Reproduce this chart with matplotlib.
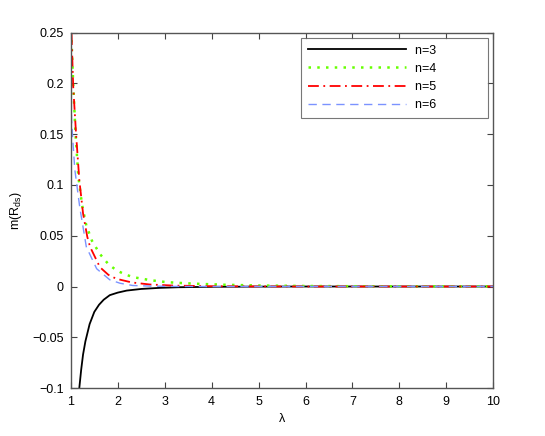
import matplotlib
matplotlib.use('Agg')
import matplotlib.pyplot as plt

plt.rcParams['font.family'] = ['Liberation Sans', 'DejaVu Sans']
plt.rcParams['mathtext.fontset'] = 'custom'
plt.rcParams['mathtext.rm'] = 'Liberation Sans'

# values
lam_n3 = [1.18, 1.22, 1.26, 1.31, 1.40, 1.50, 1.60, 1.70, 1.83, 2.0, 2.19, 2.5, 2.9, 3.3, 4.0, 5.0, 6.0, 7.0, 8.0, 9.0, 10.0]
m_n3 = [-0.100, -0.082, -0.067, -0.054, -0.037, -0.025, -0.018, -0.013, -0.0085, -0.006, -0.004, -0.0024, -0.0013, -0.0007, -0.0003, -0.0001, 0.0, 0.0, 0.0, 0.0, 0.0]

lam_n4 = [1.0, 1.05, 1.10, 1.16, 1.24, 1.33, 1.45, 1.62, 1.80, 1.97, 2.15, 2.33, 2.7, 3.04, 3.4, 3.75, 4.3, 5.0, 6.0, 7.0, 8.0, 9.0, 10.0]
m_n4 = [0.26, 0.20, 0.150, 0.108, 0.080, 0.060, 0.045, 0.032, 0.022, 0.016, 0.012, 0.0092, 0.0062, 0.0043, 0.0033, 0.0026, 0.0017, 0.0010, 0.0005, 0.0003, 0.0002, 0.0001, 0.0001]

lam_n5 = [1.0, 1.05, 1.11, 1.18, 1.26, 1.35, 1.41, 1.62, 1.80, 1.97, 2.3, 2.68, 3.2, 4.0, 5.0, 6.0, 7.0, 8.0, 9.0, 10.0]
m_n5 = [0.27, 0.197, 0.151, 0.105, 0.072, 0.049, 0.039, 0.019, 0.0115, 0.0076, 0.0040, 0.0020, 0.0009, 0.0003, 0.0001, 0.0, 0.0, 0.0, 0.0, 0.0]

lam_n6 = [1.0, 1.015, 1.05, 1.085, 1.19, 1.33, 1.55, 1.83, 2.05, 2.32, 2.7, 3.2, 4.0, 5.0, 6.0, 7.0, 8.0, 9.0, 10.0]
m_n6 = [0.21, 0.164, 0.138, 0.115, 0.078, 0.039, 0.0175, 0.0066, 0.0032, 0.0010, 0.0004, 0.0001, 0.0, 0.0, 0.0, 0.0, 0.0, 0.0, 0.0]

series_labels = ['n=3', 'n=4', 'n=5', 'n=6']

fig = plt.figure(figsize=(5.45, 4.36), dpi=100)
ax = fig.add_axes([0.13, 0.11, 0.775, 0.815])

# trailing spaces give the wide MATLAB-style legend box
pad = ' ' * 13
ax.plot(lam_n3, m_n3, color='black', linestyle='-', linewidth=1.3, label=series_labels[0] + pad)
ax.plot(lam_n4, m_n4, color='#66ff00', linestyle=(0, (1, 2.5)), linewidth=1.8, label=series_labels[1] + pad)
ax.plot(lam_n5, m_n5, color='#ff0000', linestyle=(0, (6, 2.5, 1, 2.5)), linewidth=1.3, label=series_labels[2] + pad)
ax.plot(lam_n6, m_n6, color='#7b93ff', linestyle=(0, (6, 4)), linewidth=1.0, label=series_labels[3] + pad)

ax.set_xlim(1, 10)
ax.set_ylim(-0.1, 0.25)
ax.set_xticks(range(1, 11))
ax.set_yticks([-0.1, -0.05, 0, 0.05, 0.1, 0.15, 0.2, 0.25])
ax.set_yticklabels(['\u22120.1', '\u22120.05', '0', '0.05', '0.1', '0.15', '0.2', '0.25'])
ax.tick_params(direction='in', top=True, right=True, labelsize=9, length=4, width=0.8, color='#444444')
ax.tick_params(axis='x', pad=6)
ax.tick_params(axis='y', pad=5)
for s in ax.spines.values():
    s.set_color('#555555')
    s.set_linewidth(1.0)

ax.set_xlabel('\u03bb', fontsize=9, labelpad=3)
ax.set_ylabel(r'm(R$_{\mathrm{ds}}$)', fontsize=9, labelpad=6)

leg = ax.legend(loc='upper right', fontsize=9, frameon=True, fancybox=False,
                edgecolor='#555555', handlelength=7.8, borderaxespad=0.4,
                labelspacing=0.5, handletextpad=0.7, borderpad=0.55)
leg.get_frame().set_linewidth(0.8)

fig.savefig('out.png', dpi=100)
